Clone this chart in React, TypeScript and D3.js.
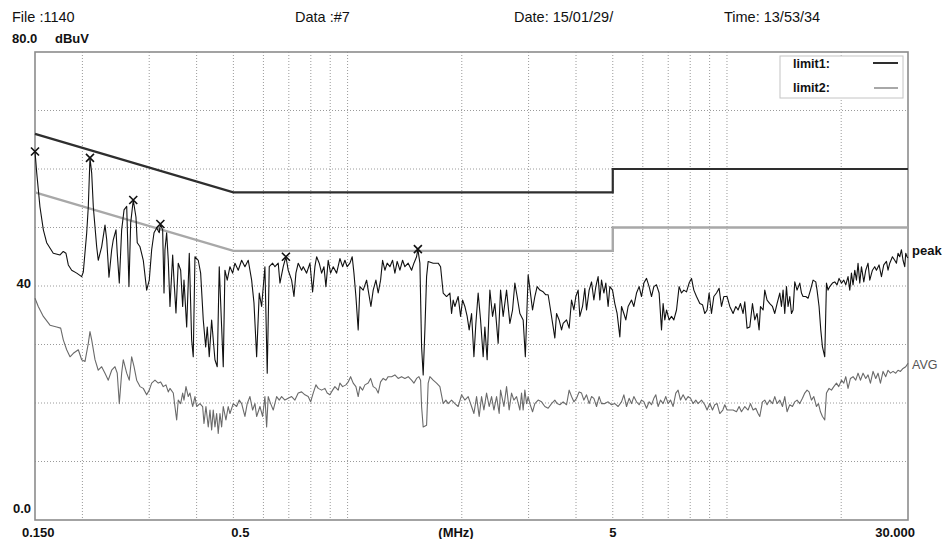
import React from "react";
import * as d3 from "d3";

type Pt = [number, number];

// ---- header / labels ----
const headerTexts = ["File :1140", "Data :#7", "Date: 15/01/29/", "Time: 13/53/34"];
const yUnit = "dBuV";
const yTickLabels: { v: number; label: string }[] = [
  { v: 80, label: "80.0" },
  { v: 40, label: "40" },
  { v: 0, label: "0.0" },
];
const xTickLabels: { f: number; label: string }[] = [
  { f: 0.15, label: "0.150" },
  { f: 0.5, label: "0.5" },
  { f: 5, label: "5" },
  { f: 30, label: "30.000" },
];
const xUnit = "(MHz)";

// ---- grid ----
const gridFreqs = [0.2, 0.3, 0.4, 0.5, 0.6, 0.7, 0.8, 0.9, 1, 2, 3, 4, 5, 6, 7, 8, 9, 10, 20];
const gridLevels = [10, 20, 30, 40, 50, 60, 70];

// ---- limits ----
const limit1: Pt[] = [[0.15, 66], [0.5, 56], [5, 56], [5, 60], [30, 60]];
const limit2: Pt[] = [[0.15, 56], [0.5, 46], [5, 46], [5, 50], [30, 50]];

// ---- peak markers ----
const peakMarkers: Pt[] = [[0.15, 63.0], [0.2094, 61.9], [0.2723, 54.7], [0.321, 50.6], [0.6878, 45.0], [1.532, 46.3]];

// ---- peak trace (MHz, dBuV) ----
const peakTrace: Pt[] = [
[0.1500,63.0],[0.1516,59.3],[0.1546,53.5],[0.1578,49.6],[0.1610,47.4],[0.1676,45.6],[0.1746,45.3],[0.1781,45.9],[0.1810,45.6],[0.1836,43.6],[0.1874,42.7],[0.1932,42.2],[0.1991,41.6],[0.2011,42.4],[0.2053,49.1],[0.2073,53.6],[0.2094,61.9],[0.2116,59.3],[0.2137,53.5],[0.2181,46.7],[0.2202,44.4],[0.2248,46.7],[0.2294,50.4],[0.2318,47.9],[0.2350,41.5],[0.2389,46.2],[0.2412,47.9],[0.2452,49.6],[0.2471,45.6],[0.2502,40.5],[0.2538,49.6],[0.2575,53.0],[0.2617,53.6],[0.2653,39.9],[0.2681,50.8],[0.2723,54.7],[0.2768,51.8],[0.2790,47.4],[0.2837,46.7],[0.2894,44.4],[0.2954,39.3],[0.3001,41.0],[0.3045,46.2],[0.3089,49.1],[0.3139,49.9],[0.3189,49.1],[0.3210,50.6],[0.3255,49.6],[0.3282,38.8],[0.3301,46.2],[0.3335,49.1],[0.3368,44.4],[0.3403,36.5],[0.3459,45.3],[0.3487,41.0],[0.3529,35.4],[0.3578,43.9],[0.3631,42.7],[0.3675,36.5],[0.3705,41.0],[0.3766,33.0],[0.3826,45.6],[0.3881,30.8],[0.3919,27.9],[0.3960,45.0],[0.4040,44.4],[0.4099,42.2],[0.4165,34.2],[0.4226,29.6],[0.4267,33.0],[0.4319,27.9],[0.4382,34.2],[0.4425,30.8],[0.4471,27.4],[0.4533,26.2],[0.4589,43.3],[0.4656,33.0],[0.4702,26.2],[0.4750,42.7],[0.4817,41.0],[0.4897,43.3],[0.4977,42.2],[0.5048,43.9],[0.5150,42.7],[0.5257,44.4],[0.5363,43.3],[0.5472,44.4],[0.5586,41.0],[0.5666,37.1],[0.5758,27.9],[0.5850,38.8],[0.5935,36.5],[0.6055,43.3],[0.6140,25.1],[0.6216,43.3],[0.6345,43.9],[0.6434,43.3],[0.6564,43.9],[0.6633,40.5],[0.6767,43.3],[0.6878,45.0],[0.6974,42.7],[0.7120,41.0],[0.7222,38.2],[0.7308,42.2],[0.7411,43.9],[0.7565,42.7],[0.7640,43.3],[0.7799,42.2],[0.7957,43.9],[0.8087,39.0],[0.8201,43.3],[0.8287,45.0],[0.8419,43.9],[0.8542,42.2],[0.8664,43.3],[0.8767,39.9],[0.8890,44.4],[0.9021,42.2],[0.9165,43.3],[0.9356,42.2],[0.9545,44.7],[0.9702,43.3],[0.9839,44.4],[0.9976,43.3],[1.0143,43.9],[1.0284,45.0],[1.0393,42.2],[1.0518,38.2],[1.0665,32.5],[1.0777,39.9],[1.0994,39.3],[1.1223,41.0],[1.1332,39.3],[1.1521,36.5],[1.1682,39.3],[1.1875,41.0],[1.2041,38.8],[1.2218,41.0],[1.2367,44.4],[1.2541,42.7],[1.2717,43.9],[1.2928,43.3],[1.3140,44.4],[1.3325,42.2],[1.3512,44.2],[1.3737,42.7],[1.3962,44.4],[1.4159,43.3],[1.4445,43.9],[1.4746,42.7],[1.4957,43.9],[1.5201,45.0],[1.5320,46.3],[1.5509,43.9],[1.5669,29.6],[1.5822,24.8],[1.5986,32.5],[1.6152,41.6],[1.6308,44.2],[1.6812,43.9],[1.7328,43.9],[1.7583,43.3],[1.7864,38.8],[1.8235,38.2],[1.8606,38.8],[1.8797,35.3],[1.8981,37.6],[1.9177,36.5],[1.9564,38.2],[1.9852,34.8],[2.0093,37.6],[2.0376,36.5],[2.0662,34.8],[2.0916,32.5],[2.1222,35.3],[2.1526,27.9],[2.1783,33.6],[2.2088,38.8],[2.2413,34.2],[2.2770,27.9],[2.3005,33.0],[2.3327,27.4],[2.3716,39.3],[2.4105,34.8],[2.4444,37.0],[2.4938,30.2],[2.5305,39.3],[2.5708,34.8],[2.6243,39.3],[2.6776,33.6],[2.7215,35.9],[2.7598,40.5],[2.7984,38.2],[2.8451,35.3],[2.9025,34.2],[2.9412,27.9],[2.9916,41.9],[3.0230,39.6],[3.0726,35.9],[3.1158,38.2],[3.1594,39.9],[3.2121,39.3],[3.2769,39.0],[3.3309,38.5],[3.3776,38.5],[3.4273,35.9],[3.4819,33.0],[3.5178,31.1],[3.5544,35.3],[3.6110,34.2],[3.6638,32.5],[3.6997,33.6],[3.7767,34.2],[3.8369,32.8],[3.8930,37.6],[3.9487,35.9],[3.9959,38.2],[4.0519,39.3],[4.0944,34.8],[4.1615,36.5],[4.2201,39.6],[4.2640,35.9],[4.3319,39.3],[4.3952,40.7],[4.4581,37.6],[4.5114,39.9],[4.5746,41.6],[4.6226,37.6],[4.6701,41.0],[4.7369,38.8],[4.7936,40.5],[4.8608,36.5],[4.9118,39.9],[4.9923,39.3],[5.0626,37.0],[5.1334,35.3],[5.2190,31.3],[5.2727,36.5],[5.3481,35.3],[5.4120,34.2],[5.4879,36.5],[5.6025,37.6],[5.6826,36.5],[5.7751,38.8],[5.8672,39.9],[5.9529,38.2],[6.0381,40.5],[6.1364,41.3],[6.2342,39.9],[6.3253,38.2],[6.4158,39.9],[6.5202,40.2],[6.6241,38.8],[6.7209,32.5],[6.7867,37.0],[6.8568,34.2],[6.9281,35.9],[7.0385,34.2],[7.1413,34.8],[7.2435,34.2],[7.3614,35.9],[7.4787,39.9],[7.5880,38.8],[7.6966,39.3],[7.8219,39.0],[7.9465,40.5],[8.0626,41.3],[8.1780,39.3],[8.3111,38.2],[8.4798,37.0],[8.6188,36.8],[8.7401,35.3],[8.8625,35.9],[8.9717,38.8],[9.1028,35.3],[9.2330,38.2],[9.3834,38.8],[9.5329,39.6],[9.6722,36.5],[9.8106,38.2],[10.006,38.2],[10.173,36.5],[10.378,35.3],[10.549,36.5],[10.697,35.9],[10.854,37.0],[11.027,35.3],[11.141,37.3],[11.297,32.8],[11.485,33.0],[11.673,37.0],[11.838,34.2],[12.003,35.3],[12.151,32.5],[12.254,36.5],[12.450,35.9],[12.578,39.3],[12.754,37.6],[12.967,37.0],[13.179,36.5],[13.365,35.3],[13.552,37.0],[13.778,38.8],[13.919,36.5],[14.056,39.3],[14.201,35.3],[14.348,39.9],[14.488,36.5],[14.640,38.2],[14.790,35.3],[14.935,35.9],[15.089,40.7],[15.300,39.3],[15.555,40.5],[15.715,38.8],[15.869,38.2],[16.131,38.2],[16.357,37.9],[16.597,39.3],[16.862,41.0],[17.140,40.7],[17.274,39.3],[17.487,36.5],[17.669,32.5],[17.850,29.6],[18.101,27.9],[18.290,40.5],[18.467,39.3],[18.661,39.9],[18.967,40.5],[19.234,40.7],[19.503,40.2],[19.743,41.3],[20.032,40.5],[20.318,41.0],[20.561,40.2],[20.849,41.6],[21.068,39.3],[21.285,42.2],[21.493,40.2],[21.715,42.7],[21.941,41.0],[22.154,43.9],[22.386,40.5],[22.616,43.3],[22.940,40.7],[23.214,42.7],[23.539,43.9],[23.786,41.0],[24.176,42.7],[24.516,43.3],[24.771,42.7],[25.166,43.6],[25.534,41.6],[25.899,43.6],[26.321,44.2],[26.576,42.7],[26.855,43.9],[27.295,45.0],[27.679,44.4],[27.967,43.9],[28.239,45.6],[28.535,45.0],[28.828,46.2],[29.110,44.4],[29.411,43.3],[29.590,45.6],[29.823,45.0],[30.000,44.8]
];

// ---- average trace (MHz, dBuV) ----
const avgTrace: Pt[] = [
[0.1500,37.9],[0.1530,36.5],[0.1578,34.8],[0.1643,33.3],[0.1711,33.0],[0.1753,32.8],[0.1781,30.8],[0.1818,29.1],[0.1855,27.9],[0.1893,28.5],[0.1951,29.1],[0.1991,27.4],[0.2032,27.1],[0.2073,30.2],[0.2094,32.2],[0.2116,30.8],[0.2159,27.4],[0.2202,25.6],[0.2248,26.2],[0.2294,25.1],[0.2340,23.9],[0.2389,25.6],[0.2437,26.2],[0.2471,25.1],[0.2502,19.9],[0.2538,25.1],[0.2563,27.4],[0.2617,25.1],[0.2658,23.9],[0.2697,27.9],[0.2736,26.2],[0.2780,23.9],[0.2837,22.8],[0.2894,22.5],[0.2954,21.4],[0.3001,22.2],[0.3045,23.4],[0.3107,23.9],[0.3169,23.4],[0.3216,23.6],[0.3267,22.8],[0.3321,23.1],[0.3368,21.9],[0.3403,22.5],[0.3472,21.7],[0.3507,19.4],[0.3544,17.1],[0.3578,20.5],[0.3631,19.9],[0.3675,21.7],[0.3705,20.5],[0.3750,22.8],[0.3802,21.1],[0.3842,21.7],[0.3905,19.4],[0.3960,21.1],[0.4001,19.4],[0.4082,19.9],[0.4149,19.4],[0.4183,16.5],[0.4233,19.4],[0.4293,15.9],[0.4338,18.8],[0.4382,15.4],[0.4425,18.8],[0.4471,15.9],[0.4517,18.2],[0.4561,14.8],[0.4609,18.2],[0.4656,15.9],[0.4702,19.4],[0.4779,17.1],[0.4846,19.4],[0.4897,18.2],[0.4996,19.9],[0.5100,19.4],[0.5181,20.5],[0.5257,19.9],[0.5363,17.7],[0.5438,19.9],[0.5529,21.1],[0.5620,18.8],[0.5699,19.9],[0.5758,17.7],[0.5875,19.4],[0.5971,17.7],[0.6055,21.1],[0.6118,15.9],[0.6178,21.1],[0.6268,19.9],[0.6368,18.8],[0.6501,21.1],[0.6605,20.5],[0.6701,21.1],[0.6836,20.5],[0.6974,20.8],[0.7120,21.1],[0.7264,20.5],[0.7411,21.7],[0.7565,21.9],[0.7718,21.4],[0.7874,21.1],[0.7990,20.2],[0.8117,21.7],[0.8251,23.1],[0.8367,22.5],[0.8542,22.2],[0.8714,22.5],[0.8836,21.7],[0.8983,21.4],[0.9131,22.2],[0.9259,22.8],[0.9446,22.2],[0.9545,23.4],[0.9702,22.8],[0.9899,23.1],[1.0037,23.6],[1.0185,24.5],[1.0347,23.4],[1.0518,22.8],[1.0665,21.1],[1.0777,22.8],[1.0954,22.2],[1.1108,23.1],[1.1332,23.4],[1.1499,24.2],[1.1682,22.8],[1.1875,22.5],[1.2041,21.7],[1.2218,23.6],[1.2413,24.2],[1.2617,23.9],[1.2794,24.5],[1.3061,24.5],[1.3325,24.8],[1.3594,24.2],[1.3878,24.5],[1.4159,24.2],[1.4445,24.5],[1.4746,23.9],[1.4957,23.4],[1.5201,24.2],[1.5415,24.5],[1.5574,23.9],[1.5669,19.4],[1.5822,15.9],[1.6152,16.2],[1.6308,23.4],[1.6479,24.5],[1.6812,23.9],[1.7162,23.4],[1.7510,22.8],[1.7864,19.9],[1.8158,20.5],[1.8412,19.9],[1.8797,20.5],[1.9177,19.9],[1.9564,19.4],[1.9973,21.4],[2.0376,20.5],[2.0788,21.1],[2.1222,19.4],[2.1526,18.2],[2.1876,21.1],[2.2225,17.7],[2.2549,21.1],[2.2872,18.8],[2.3244,21.7],[2.3615,19.4],[2.3960,21.1],[2.4303,18.8],[2.4698,21.1],[2.5092,18.2],[2.5305,22.2],[2.5823,19.4],[2.6243,22.8],[2.6661,18.8],[2.7051,21.7],[2.7438,20.5],[2.7885,21.1],[2.8451,18.8],[2.8743,21.7],[2.9025,18.8],[2.9324,22.2],[2.9629,19.9],[2.9916,21.1],[3.0230,19.9],[3.0726,18.5],[3.1158,19.9],[3.1788,20.5],[3.2451,20.2],[3.3107,19.4],[3.3776,19.1],[3.4481,19.9],[3.5178,20.5],[3.5671,19.9],[3.6265,19.7],[3.6997,20.2],[3.7767,19.7],[3.8369,22.2],[3.8930,21.1],[3.9487,20.2],[4.0130,20.8],[4.0769,21.9],[4.1365,21.7],[4.1957,20.5],[4.2640,21.4],[4.3319,19.9],[4.3952,21.1],[4.4581,20.8],[4.5307,19.4],[4.6029,21.1],[4.6701,19.9],[4.7645,19.9],[4.8608,20.2],[4.9623,19.7],[5.0626,19.9],[5.1648,19.4],[5.2727,20.2],[5.3481,21.4],[5.4352,19.4],[5.5218,20.8],[5.6025,19.9],[5.6826,21.1],[5.7751,20.2],[5.8672,19.7],[5.9529,20.5],[6.0381,20.2],[6.1364,19.1],[6.2342,20.2],[6.3253,19.7],[6.4158,20.8],[6.4925,21.4],[6.5835,19.4],[6.6802,20.5],[6.7867,19.9],[6.8986,21.1],[6.9953,19.9],[7.0981,20.5],[7.2113,19.4],[7.3301,21.7],[7.4328,22.2],[7.5421,20.5],[7.6623,21.4],[7.7886,20.5],[7.8977,21.1],[8.0139,20.8],[8.1416,19.9],[8.2758,20.5],[8.3917,19.9],[8.5670,20.5],[8.7401,19.7],[8.8625,18.8],[9.0102,19.9],[9.1579,18.8],[9.2868,19.7],[9.4168,19.9],[9.5738,18.2],[9.7502,18.8],[9.8677,19.7],[10.006,18.8],[10.173,18.8],[10.378,18.8],[10.594,18.5],[10.763,19.4],[10.920,18.5],[11.141,19.4],[11.366,18.8],[11.533,19.9],[11.717,18.8],[11.910,19.1],[12.077,18.2],[12.203,17.7],[12.403,20.2],[12.578,20.5],[12.754,19.7],[12.967,20.5],[13.179,19.9],[13.365,21.1],[13.552,19.9],[13.778,20.5],[14.004,19.4],[14.201,21.1],[14.400,18.5],[14.640,19.7],[14.880,19.4],[15.089,20.2],[15.300,20.5],[15.555,19.9],[15.810,20.8],[16.033,21.7],[16.257,22.2],[16.458,21.9],[16.698,20.5],[16.937,21.1],[17.213,19.4],[17.422,19.9],[17.635,18.5],[17.850,17.7],[18.101,17.1],[18.290,21.7],[18.581,22.5],[18.853,22.2],[19.122,22.8],[19.434,23.4],[19.707,22.8],[20.032,23.9],[20.318,23.4],[20.561,24.5],[20.849,22.5],[21.156,24.2],[21.493,24.5],[21.847,23.9],[22.154,25.1],[22.479,23.9],[22.838,25.1],[23.214,24.2],[23.539,24.8],[23.885,23.4],[24.266,25.4],[24.666,24.2],[25.012,25.1],[25.379,23.4],[25.784,25.4],[26.209,24.5],[26.576,25.6],[26.967,25.1],[27.397,25.4],[27.848,25.1],[28.239,25.6],[28.654,25.4],[29.110,25.9],[29.590,26.2],[30.000,26.8]
];

const seriesNames = ["peak", "AVG"];
const legendNames = ["limit1:", "limit2:"];

const FONT = "'Liberation Sans', Arial, Helvetica, sans-serif";

export default function App() {
  const W = 947;
  const H = 539;
  const left = 35, right = 908, top = 52, bottom = 520;

  const x = d3.scaleLog().domain([0.15, 30]).range([left, right]);
  const y = d3.scaleLinear().domain([0, 80]).range([bottom, top]);
  const line = d3.line<Pt>().x((d) => x(d[0])).y((d) => y(d[1]));

  const headerX = [12, 295, 514, 724];

  const xLabelPos = (f: number, i: number) => {
    if (i === 0) return { x: x(f) - 13, anchor: "start" };
    if (i === xTickLabels.length - 1) return { x: x(f) + 7, anchor: "end" };
    if (f === 0.5) return { x: x(f) + 7, anchor: "middle" };
    return { x: x(f), anchor: "middle" };
  };

  const yLabelPos = (v: number) => {
    if (v === 80) return { x: 12, y: y(v) - 9, anchor: "start" };
    if (v === 0) return { x: 31, y: y(v) - 7, anchor: "end" };
    return { x: 31, y: y(v) + 2, anchor: "end" };
  };

  const lastPeak = peakTrace[peakTrace.length - 1];
  const lastAvg = avgTrace[avgTrace.length - 1];

  return (
    <svg
      width={W}
      height={H}
      viewBox={`0 0 ${W} ${H}`}
      style={{ position: "absolute", left: 0, top: 0, background: "#fff" }}
      fontFamily={FONT}
    >
      <rect x={0} y={0} width={W} height={H} fill="#fff" />

      {/* header */}
      {headerTexts.map((t, i) => (
        <text key={t} x={headerX[i]} y={21.5} fontSize={14.5} fill="#111">
          {t}
        </text>
      ))}

      {/* grid */}
      <g stroke="#9a9a9a" strokeWidth={1} strokeDasharray="1,2">
        {gridFreqs.map((f) => (
          <line key={"v" + f} x1={x(f)} x2={x(f)} y1={top} y2={bottom} />
        ))}
        {gridLevels.map((v) => (
          <line key={"h" + v} x1={left} x2={right} y1={y(v)} y2={y(v)} />
        ))}
      </g>

      {/* frame */}
      <rect x={left} y={top} width={right - left} height={bottom - top} fill="none" stroke="#8c8c8c" strokeWidth={1.6} />

      {/* limits */}
      <path d={line(limit2) || ""} fill="none" stroke="#a8a8a8" strokeWidth={2.4} />
      <path d={line(limit1) || ""} fill="none" stroke="#2e2e2e" strokeWidth={2.2} />

      {/* traces */}
      <path d={line(avgTrace) || ""} fill="none" stroke="#6a6a6a" strokeWidth={1.1} strokeLinejoin="round" />
      <path d={line(peakTrace) || ""} fill="none" stroke="#111" strokeWidth={1.1} strokeLinejoin="round" />

      {/* markers */}
      <g stroke="#111" strokeWidth={1.6}>
        {peakMarkers.map((d, i) => {
          const cx = x(d[0]);
          const cy = y(d[1]);
          const s = 4;
          return (
            <path key={i} d={`M${cx - s},${cy - s}L${cx + s},${cy + s}M${cx - s},${cy + s}L${cx + s},${cy - s}`} fill="none" />
          );
        })}
      </g>

      {/* legend */}
      <rect x={780} y={56} width={123} height={42} fill="#fff" stroke="#c4c4c4" strokeWidth={1} />
      <text x={793} y={68} fontSize={12.5} fontWeight="bold" fill="#111">{legendNames[0]}</text>
      <text x={793} y={91.5} fontSize={12.5} fontWeight="bold" fill="#111">{legendNames[1]}</text>
      <line x1={873} x2={898} y1={63} y2={63} stroke="#2e2e2e" strokeWidth={2} />
      <line x1={874} x2={898} y1={88} y2={88} stroke="#a8a8a8" strokeWidth={2} />

      {/* series labels */}
      <text x={912} y={y(lastPeak[1]) - 3} fontSize={13} fontWeight="bold" fill="#111">{seriesNames[0]}</text>
      <text x={912} y={y(lastAvg[1]) + 6} fontSize={12.5} fill="#555">{seriesNames[1]}</text>

      {/* y labels */}
      {yTickLabels.map((t) => {
        const p = yLabelPos(t.v);
        return (
          <text key={t.label} x={p.x} y={p.y} textAnchor={p.anchor as any} fontSize={13} fontWeight="bold" fill="#111">
            {t.label}
          </text>
        );
      })}
      <text x={55} y={y(80) - 9} fontSize={13} fontWeight="bold" fill="#111">{yUnit}</text>

      {/* x labels */}
      {xTickLabels.map((t, i) => {
        const p = xLabelPos(t.f, i);
        return (
          <text key={t.label} x={p.x} y={537} textAnchor={p.anchor as any} fontSize={13} fontWeight="bold" fill="#111">
            {t.label}
          </text>
        );
      })}
      <text x={456} y={537} textAnchor="middle" fontSize={13} fontWeight="bold" fill="#111">{xUnit}</text>
    </svg>
  );
}
